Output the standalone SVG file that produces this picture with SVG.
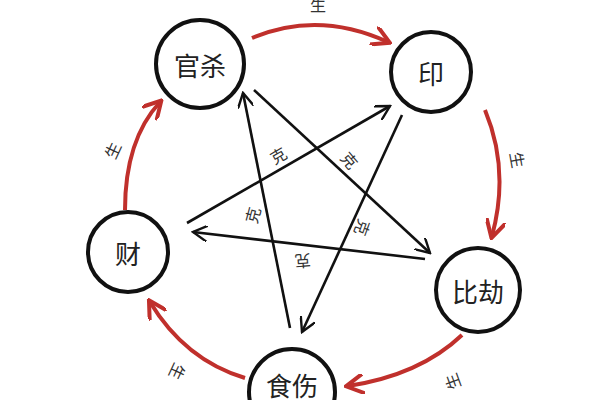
<svg xmlns="http://www.w3.org/2000/svg" width="600" height="400" viewBox="0 0 600 400">
<defs>
<marker id="ar" viewBox="0 0 10 10" refX="8" refY="5" markerWidth="20" markerHeight="20" orient="auto" markerUnits="userSpaceOnUse"><path d="M0,0 L9,5 L0,10" fill="none" stroke="#c0302c" stroke-width="2"/></marker>
<marker id="ab" viewBox="0 0 10 10" refX="9" refY="5" markerWidth="16" markerHeight="16" orient="auto" markerUnits="userSpaceOnUse"><path d="M0,0 L9,5 L0,10" fill="none" stroke="#111" stroke-width="1.5"/></marker>
<style>
.n{fill:#fff;stroke:#111;stroke-width:4}
.t{font-family:"Noto Sans CJK SC",sans-serif;font-size:26px;fill:#222;text-anchor:middle;dominant-baseline:central}
.s{font-family:"Noto Sans CJK SC",sans-serif;font-size:16px;fill:#333;text-anchor:middle;dominant-baseline:central}
.r{fill:none;stroke:#c0302c;stroke-width:4;marker-end:url(#ar)}
.b{fill:none;stroke:#111;stroke-width:2.6;marker-end:url(#ab)}
</style>
</defs>
<rect width="600" height="400" fill="#fff"/>
<g id="connectors">
<path class="r" d="M252,38 Q318,10 388,42"/>
<path class="r" d="M485,110 Q510,170 492,236"/>
<path class="r" d="M462,335 Q420,375 348,386"/>
<path class="r" d="M245,378 Q185,360 150,302"/>
<path class="r" d="M125,210 Q125,140 160,102"/>
<line class="b" x1="290" y1="328" x2="243" y2="93"/>
<line class="b" x1="254" y1="90" x2="430" y2="253"/>
<line class="b" x1="187" y1="223" x2="390" y2="106"/>
<line class="b" x1="425" y1="259" x2="193" y2="232"/>
<line class="b" x1="402" y1="115" x2="302" y2="332"/>
<text class="s" x="318" y="4">生</text>
<text class="s" transform="translate(518,160) rotate(80)">生</text>
<text class="s" transform="translate(452,382) rotate(-110)">生</text>
<text class="s" transform="translate(178,372) rotate(115)">生</text>
<text class="s" transform="translate(112,150) rotate(-65)">生</text>
<text class="s" transform="translate(278,155) rotate(-30)">克</text>
<text class="s" transform="translate(350,160) rotate(50)">克</text>
<text class="s" transform="translate(252,215) rotate(-75)">克</text>
<text class="s" transform="translate(363,228) rotate(110)">克</text>
<text class="s" transform="translate(303,262) rotate(175)">克</text>
</g>
<g id="guansha"><circle class="n" cx="200" cy="64" r="44"/><text class="t" x="200" y="64">官杀</text></g>
<g id="yin"><circle class="n" cx="431" cy="72" r="40"/><text class="t" x="431" y="72">印</text></g>
<g id="bijie"><circle class="n" cx="478" cy="290" r="42"/><text class="t" x="478" y="290">比劫</text></g>
<g id="shishang"><circle class="n" cx="292" cy="392" r="43"/><text class="t" x="292" y="384">食伤</text></g>
<g id="cai"><circle class="n" cx="128" cy="252" r="40"/><text class="t" x="128" y="252">财</text></g>
</svg>
